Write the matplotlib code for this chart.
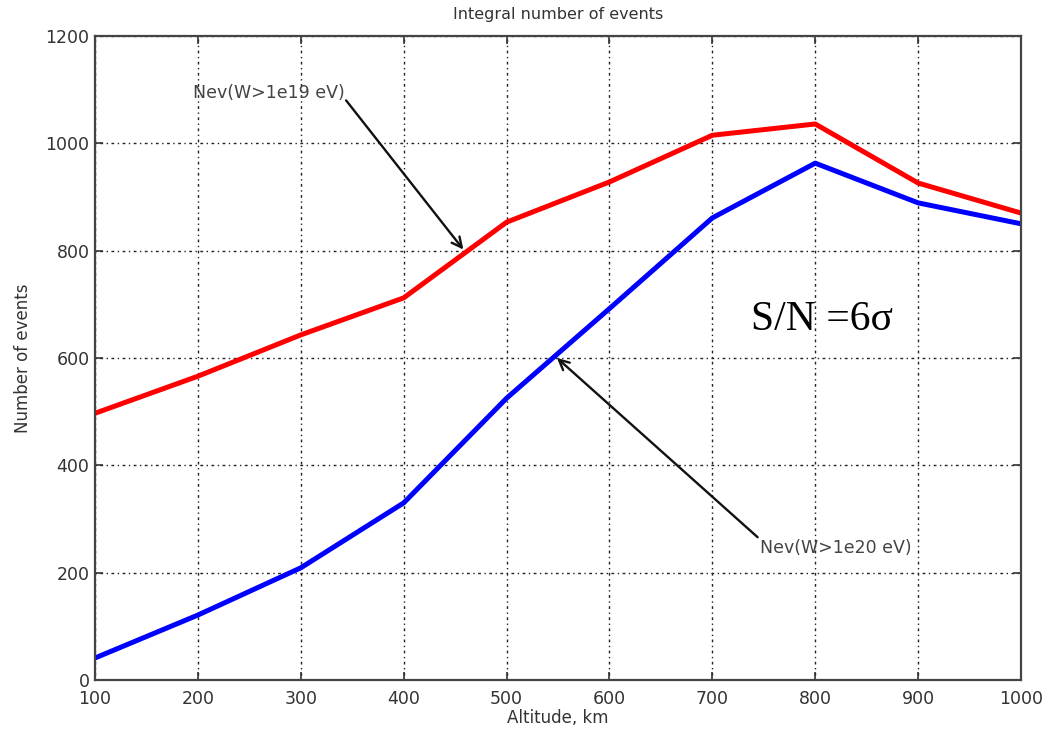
import numpy as np
import matplotlib.pyplot as plt

# Высота орбиты, км
altitude = [100, 200, 300, 400, 500, 600, 700, 800, 900, 1000]
# Интегральное число событий
nev_1e19 = [497, 566, 643, 712, 853, 928, 1015, 1036, 926, 870]
nev_1e20 = [41, 121, 209, 330, 525, 692, 861, 963, 889, 850]

xticks = list(range(100, 1001, 100))
yticks = list(range(0, 1201, 200))

fig = plt.figure(figsize=(10.62, 7.31), dpi=100)
ax = fig.add_axes([0.0895, 0.0698, 0.8719, 0.881])

ax.plot(altitude, nev_1e19, color='#ff0000', linewidth=3.6, solid_capstyle='butt')
ax.plot(altitude, nev_1e20, color='#0000ff', linewidth=3.6, solid_capstyle='butt')

ax.set_xlim(100, 1000)
ax.set_ylim(0, 1200)
ax.set_xticks(xticks)
ax.set_yticks(yticks)
ax.grid(True, color='#222222', linestyle=(0, (1, 2.5, 2, 2.5)), linewidth=1.0)
ax.tick_params(direction='in', top=True, right=True, length=6, width=1.2,
               labelsize=12.5, labelcolor='#333333', color='#333333')
ax.tick_params(axis='x', pad=7)
ax.tick_params(axis='y', pad=4)
for s in ax.spines.values():
    s.set_color('#444444')
    s.set_linewidth(1.6)

ax.set_title('Integral number of events', fontsize=11.5, color='#333333', pad=12)
ax.set_xlabel('Altitude, km', fontsize=12, color='#333333', labelpad=1)
ax.set_ylabel('Number of events', fontsize=12, color='#333333', labelpad=10)

# подписи кривых со стрелками
ax.text(343, 1094, 'Nev(W>1e19 eV)', fontsize=12.5, color='#444444',
        ha='right', va='center')
ax.annotate('', xy=(458, 802), xytext=(344, 1080),
            arrowprops=dict(arrowstyle='->', color='#111111', lw=1.7,
                            mutation_scale=18, shrinkA=0, shrinkB=0))
ax.text(746, 246, 'Nev(W>1e20 eV)', fontsize=12.5, color='#444444',
        ha='left', va='center')
ax.annotate('', xy=(549, 600), xytext=(744, 266),
            arrowprops=dict(arrowstyle='->', color='#111111', lw=1.7,
                            mutation_scale=18, shrinkA=0, shrinkB=0))

ax.text(738, 671, 'S/N =6σ', fontsize=30, family='Liberation Serif',
        color='black', ha='left', va='center')

plt.savefig('out.png', dpi=100)
